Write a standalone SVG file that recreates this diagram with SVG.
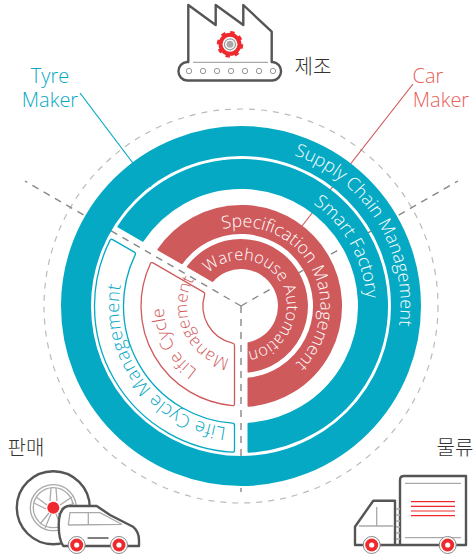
<svg xmlns="http://www.w3.org/2000/svg" width="474" height="555" viewBox="0 0 474 555">
<style>
text{font-family:"Open Sans","Noto Sans",sans-serif;font-weight:300}
.ko{font-family:"Noto Sans CJK KR",sans-serif;font-size:20px;fill:#333}
.w{fill:#fff;font-size:18px}
.t{fill:#05a9c4}.r{fill:#cf5a5c}
.ft{fill:#05a9c4;stroke:#05a9c4;stroke-width:2;stroke-linejoin:round}
.fr{fill:#cf5a5c;stroke:#cf5a5c;stroke-width:2;stroke-linejoin:round}
.dk{fill:none;stroke:#555;stroke-width:2.4;stroke-linejoin:round;stroke-linecap:round}
.gr{fill:none;stroke:#aaa;stroke-width:1.3}
</style>
<defs>
<path id="pSupply" d="M294 155.1A159 159 0 0 1 378.7 385.5"/>
<path id="pSmart" d="M313.3 203.6A125 125 0 0 1 349.3 368.5"/>
<path id="pSpec" d="M222.6 229.2A79 79 0 1 1 254.7 383.8"/>
<path id="pWare" d="M208.5 273.5A46 46 0 1 1 210.8 340.7"/>
<path id="pLifeT" d="M226.25 427.3A122 122 0 0 1 135.3 245"/>
<path id="pLifeR" d="M197.4 370A77 77 0 0 1 174.3 267.5"/>
<path id="pMgmt" d="M229.8 358.8A54 54 0 0 1 202.8 267.8"/>
<g id="wheel"><circle r="8.5" fill="#fff" stroke="#888" stroke-width="1"/><circle r="6.5" fill="#ee2a2f"/><circle r="2.6" fill="#fff"/></g>
</defs>
<g id="connectors">
<circle cx="241" cy="306" r="197" fill="none" stroke="#bbb" stroke-width="1.2" stroke-dasharray="6 6"/>
<g fill="none" stroke="#888" stroke-width="1.4" stroke-dasharray="7 6">
<path d="M241 306L25 181"/><path d="M241 306L458 181"/><path d="M241 306V492"/>
</g>
<path d="M80 93L151 187" fill="none" stroke="#05a9c4" stroke-width="1.2"/>
<path d="M413 84L302 226" fill="none" stroke="#cf5a5c" stroke-width="1.2"/>
</g>
<g id="supply-chain"><circle cx="241" cy="306" r="165" fill="none" stroke="#05a9c4" stroke-width="30"/>
<text class="w"><textPath href="#pSupply">Supply Chain Management</textPath></text></g>
<g id="smart-factory"><path class="ft" d="M118.48 226.6A146 146 0 1 1 248.5 451.8V423.76A118 118 0 1 0 142.77 240.62Z"/>
<text class="w"><textPath href="#pSmart">Smart Factory</textPath></text></g>
<g id="specification"><path class="fr" d="M158.41 249.65A100 100 0 1 1 248.5 405.7V378.6A73 73 0 1 0 181.88 263.2Z"/>
<text class="w" style="font-size:17.5px"><textPath href="#pSpec">Specification Management</textPath></text></g>
<g id="warehouse"><path class="fr" d="M187.94 266.7A66 66 0 1 1 248.5 371.6V343.26A38 38 0 1 0 212.48 280.87Z"/>
<text class="w" style="font-size:16.3px"><textPath href="#pWare">Warehouse Automation</textPath></text></g>
<g id="life-cycle-teal"><path fill="none" stroke="#05a9c4" stroke-width="1.3" d="M112.64 239.62Q110.91 238.62 109.99 240.38A146.5 146.5 0 0 0 232.5 452.2Q234.5 452.35 234.5 450.35V425.3Q234.5 423.3 232.5 423.2A117.5 117.5 0 0 1 135.17 254.9Q136.07 253.15 134.34 252.15Z"/>
<text class="t" style="font-size:18.5px;letter-spacing:.3px"><textPath href="#pLifeT">Life Cycle Management</textPath></text></g>
<g id="life-cycle-red"><path fill="none" stroke="#cf5a5c" stroke-width="1.3" d="M152.97 262.91Q151.24 261.91 150.36 263.71A100 100 0 0 0 232.5 405.6Q234.5 405.78 234.5 403.78V345.4Q234.5 343.4 232.53 343.06A38 38 0 0 1 204.58 294.98Q205.26 293.1 203.53 292.1Z"/>
<text class="r" style="font-size:17.5px"><textPath href="#pLifeR">Life Cycle</textPath></text>
<text class="r" style="font-size:17px"><textPath href="#pMgmt">Management</textPath></text></g>
<g id="tyre-maker"><text x="50" y="83" text-anchor="middle" class="t" style="font-size:20px">Tyre</text><text x="50" y="107" text-anchor="middle" class="t" style="font-size:20px">Maker</text></g>
<g id="car-maker"><text x="428" y="83" text-anchor="middle" style="font-size:20px;fill:#e8605a">Car</text><text x="441" y="107" text-anchor="middle" style="font-size:20px;fill:#e8605a">Maker</text></g>
<g id="manufacture">
<text x="313" y="74" text-anchor="middle" class="ko">제조</text>
<path class="dk" d="M188.3 62V5L215.7 25V5L243.3 25V5L271.7 31.7V62M188.3 62H187A9 9 0 0 0 178.5 71.2A9 9 0 0 0 187 80.5H272.5A9 9 0 0 0 281 71.2A9 9 0 0 0 272.5 62H271.7"/>
<path class="gr" d="M193 62.3H268"/>
<g fill="#fff" stroke="#999" stroke-width="1"><circle cx="189" cy="71" r="2.7"/><circle cx="203" cy="71" r="2.7"/><circle cx="217" cy="71" r="2.7"/><circle cx="231" cy="71" r="2.7"/><circle cx="245" cy="71" r="2.7"/><circle cx="259" cy="71" r="2.7"/><circle cx="273" cy="71" r="2.7"/></g>
<circle cx="230" cy="44.3" r="9.5" fill="#fff" stroke="#ee2a2f" stroke-width="4"/>
<circle cx="230" cy="44.3" r="12" fill="none" stroke="#ee2a2f" stroke-width="2.5" stroke-dasharray="4.4 5"/>
<circle cx="230" cy="44.3" r="5.5" fill="#fff" stroke="#999" stroke-width="1.2"/>
<circle cx="230" cy="44.3" r="3.5" fill="#aaa"/>
</g>
<g id="sales">
<text x="26" y="455" text-anchor="middle" class="ko">판매</text>
<circle class="dk" cx="53.3" cy="507.7" r="36.5"/>
<circle class="gr" cx="53.3" cy="507.7" r="23"/>
<circle class="gr" cx="53.3" cy="507.7" r="20"/>
<g class="gr"><path d="M51 488L50 501M56 488L57 501M36 497L47 505M34 503L46 509M72 497L60 505M74 503L61 509M40 524L49 513M45 528L51 514M67 524L58 513M62 528L56 514"/></g>
<circle cx="53.3" cy="507.7" r="6" fill="#ee2a2f"/>
<path d="M63.3 546Q58.7 540 58.7 525Q58.7 508 68 506H96.7L110 515L133 526.7Q139 532 139 540V546Z" fill="#fff" stroke="#555" stroke-width="2.4" stroke-linejoin="round"/>
<path class="gr" d="M68.3 525L70 512.7H100L121.7 524.3L68.3 525M88.3 512.7V525"/>
<path class="dk" d="M88 538H108" style="stroke-width:1.4"/>
<use href="#wheel" x="76.7" y="545"/><use href="#wheel" x="119" y="545"/>
</g>
<g id="logistics">
<text x="455" y="455" text-anchor="middle" class="ko">물류</text>
<path class="dk" d="M400 545V480Q400 476 404 476H466V545H355V526.7L373.3 500.7H395V545"/>
<path class="gr" d="M396 509H400M396 515H400M396 521H400M396 527H400M396 533H400M396 539H400"/>
<path class="gr" d="M405 483.3H461M405 537.7H461M376.7 507V526M359 526H393"/>
<path stroke="#ee2a2f" stroke-width="1.2" d="M411 501.7H455M411 506.3H455M411 511H455M411 515.7H455"/>
<use href="#wheel" x="371.7" y="545"/><use href="#wheel" x="447.7" y="545"/>
</g>
</svg>
